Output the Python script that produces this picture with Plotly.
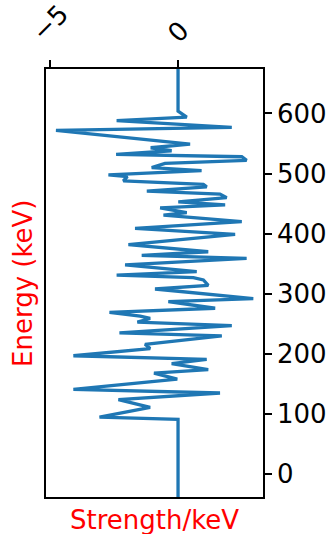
import plotly.graph_objects as go

# energy (keV) along the vertical, strength along the horizontal
energy = [-50, 91, 95, 111, 124, 135, 141, 158, 168, 174,
          184, 191, 197, 209, 216, 230, 235, 247, 253, 259,
          263, 269, 276, 287, 292, 308, 314, 323, 327, 331,
          337, 348, 359, 364, 370, 382, 399, 409, 420, 431,
          435, 443, 448, 453, 460, 466, 471, 478, 482, 488,
          495, 498, 505, 510, 517, 522, 528, 532, 538, 543,
          549, 572, 577, 588, 594, 604, 700]
strength = [0, 0, -3.07, -1.09, -2.33, 1.64, -4.09, -0.03, -0.94, 1.18,
            -0.25, 1.12, -4.09, -1.09, -1.29, 1.71, -2.29, 2.1, -1.59, -1.09,
            -1.48, -2.68, 1.45, -0.38, 2.94, -0.9, 1.18, 0.99, 0.6, -2.4,
            0.73, -2.07, 2.68, -1.42, 1.18, -1.94, 2.23, -1.68, 2.49, -0.57,
            0.34, -0.7, 1.84, 0.01, 1.9, 1.64, -1.22, 1.12, 0.99, -2.14,
            -1.98, -2.72, 0.92, -1.03, -0.51, 2.68, 2.49, -2.42, -0.25, -1.07,
            0.47, -4.77, 2.1, -2.4, 0.34, 0, 0]

x_ticks = [-5, 0]
x_tick_labels = ["\u22125", "0"]
y_ticks = [0, 100, 200, 300, 400, 500, 600]

font = "DejaVu Sans"
L, R, T, B = 46, 72, 69, 37
W, H = 335, 534

fig = go.Figure()
fig.add_trace(go.Scatter(x=strength, y=energy, mode="lines",
                         line=dict(color="#1f77b4", width=3.3), showlegend=False))

fig.update_layout(
    width=W, height=H,
    margin=dict(l=L, r=R, t=T, b=B),
    paper_bgcolor="white", plot_bgcolor="white",
    font=dict(family=font, size=26, color="black"),
    xaxis=dict(side="top", range=[-5.16, 3.32], tickvals=x_ticks, showticklabels=False,
               ticks="outside", ticklen=7, tickwidth=1.5, tickcolor="black",
               showline=True, linecolor="black", linewidth=1.5, mirror=True,
               showgrid=False, zeroline=False, automargin=False),
    yaxis=dict(side="right", range=[-38, 674], tickvals=y_ticks,
               ticks="outside", ticklen=7, tickwidth=1.5, tickcolor="black",
               showline=True, linecolor="black", linewidth=1.5, mirror=True,
               showgrid=False, zeroline=False, automargin=False),
)

# rotated top tick labels, centred over their ticks like matplotlib does
for val, lab in zip(x_ticks, x_tick_labels):
    fig.add_annotation(text=lab, x=val, y=1, xref="x", yref="paper",
                       xanchor="center", yanchor="middle",
                       yshift=46 if len(lab) > 1 else 37,
                       textangle=-45, showarrow=False, font=dict(size=26))

pw = W - L - R
ph = H - T - B
fig.add_annotation(text="Energy (keV)", x=(23 - L) / pw, y=0.5, xref="paper", yref="paper",
                   xanchor="center", yanchor="middle",
                   showarrow=False, textangle=-90, font=dict(color="red", size=26))
fig.add_annotation(text="Strength/keV", x=0.5, y=0, xref="paper", yref="paper",
                   xanchor="center", yanchor="middle", yshift=-(520 - (H - B)),
                   showarrow=False, font=dict(color="red", size=26))

# drop the default body margin so the figure sits at the page corner
fig.write_html("out.html", config={"displayModeBar": False},
               post_script="document.body.style.margin='0';")
